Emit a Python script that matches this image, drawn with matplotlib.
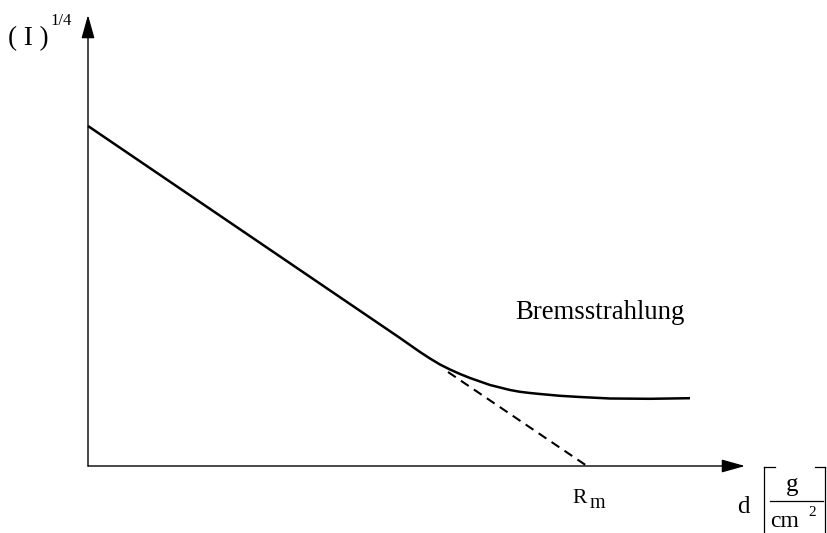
import matplotlib
matplotlib.use("Agg")
import matplotlib.pyplot as plt
from matplotlib.lines import Line2D

plt.rcParams["font.family"] = ["Liberation Serif", "DejaVu Serif"]

# measured curve: thickness d vs (I)^(1/4), arbitrary units
d_meas = [0.0, 31.2, 33.2, 34.2, 35.2, 36.2, 37.2, 38.2, 39.2, 40.2, 41.2,
          42.2, 43.2, 44.2, 45.2, 47.2, 49.2, 52.2, 56.2, 60.2]
i_meas = [34.0, 12.8, 11.4, 10.75, 10.15, 9.65, 9.2, 8.8, 8.45, 8.1, 7.85,
          7.6, 7.42, 7.3, 7.2, 7.02, 6.9, 6.75, 6.72, 6.78]

# extrapolated straight part down to R_m
d_extra = [36.0, 49.9]
i_extra = [9.4, 0.0]

W, H = 828, 533
fig = plt.figure(figsize=(W / 100, H / 100), dpi=100)
ax = fig.add_axes([0, 0, 1, 1])
ax.set_xlim(-8.8, 74.0)
ax.set_ylim(-6.7, 46.6)
ax.axis("off")

ax.plot(d_meas, i_meas, color="black", lw=1.8, solid_joinstyle="round",
        solid_capstyle="butt")
ax.plot(d_extra, i_extra, color="black", lw=1.5, ls=(0, (4.5, 3)))

# axes with arrow heads
arrow = dict(arrowstyle="-|>,head_length=1.0,head_width=0.28",
             mutation_scale=14.4, lw=1.0, color="black", shrinkA=0, shrinkB=0)
ax.annotate("", xy=(65.7, 0), xytext=(0, 0), arrowprops=arrow)
ax.annotate("", xy=(0, 45.1), xytext=(0, 0), arrowprops=arrow)


def px(x, y):
    return x / W, 1 - y / H


def label(x, y, s, size, **kw):
    fig.text(*px(x, y), s, fontsize=size, va="baseline", **kw)


label(8, 45, "( I )", 19.5)
label(50, 25, "1/4", 12)
label(515, 319, "Bremsstrahlung", 19.3)
label(572, 503, "R", 15.5)
label(590, 508, "m", 14.5)
label(737, 513, "d", 18)
label(792, 491, "g", 18, ha="center")
label(770, 527, "cm", 17)
label(808, 516, "2", 11)

# unit bracket
segs = [
    [(764, 467), (764, 540)], [(764, 467), (775, 467)],
    [(825, 467), (825, 540)], [(815, 467), (825, 467)],
    [(770, 501), (823, 501)],
]
for seg in segs:
    (x0, y0), (x1, y1) = seg
    a, b = px(x0, y0), px(x1, y1)
    fig.add_artist(Line2D([a[0], b[0]], [a[1], b[1]], color="black", lw=0.9))

fig.savefig("out.png", dpi=100, facecolor="white")
